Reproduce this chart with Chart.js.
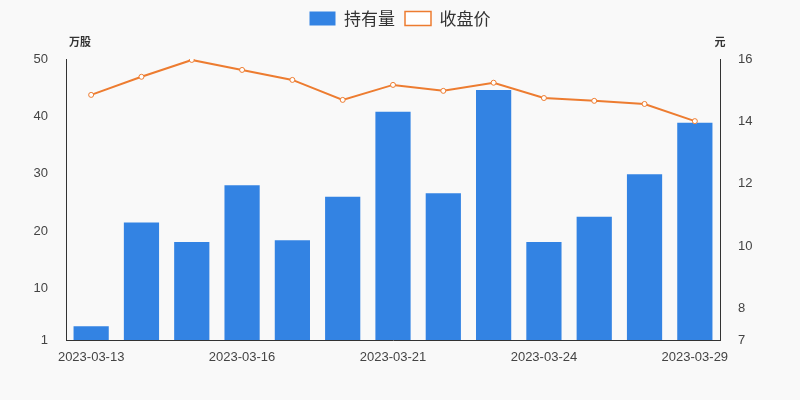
<!DOCTYPE html>
<html><head><meta charset="utf-8">
<script src="https://cdn.jsdelivr.net/npm/chart.js@4"></script>
<style>body{margin:0;background:#f9f9f9}#w{width:800px;height:400px}</style>
</head><body><div id="w"><canvas id="c"></canvas></div>
<script>
const dates = ["2023-03-13","2023-03-14","2023-03-15","2023-03-16","2023-03-17","2023-03-20","2023-03-21","2023-03-22","2023-03-23","2023-03-24","2023-03-27","2023-03-28","2023-03-29"];
const holdings = [3.4, 21.5, 18.1, 28.0, 18.4, 26.0, 40.8, 26.6, 44.6, 18.1, 22.5, 29.9, 38.9];
const closePrice = [14.85, 15.43, 15.97, 15.65, 15.33, 14.69, 15.17, 14.98, 15.24, 14.75, 14.66, 14.56, 14.01];
const leftTicks = [1, 10, 20, 30, 40, 50];
const rightTicks = [7, 8, 10, 12, 14, 16];
const shownDates = [0, 3, 6, 9, 12];

const unitLabels = {
  id: "unitLabels",
  afterDraw(chart) {
    const ctx = chart.ctx;
    ctx.save();
    ctx.font = "bold 11px 'Noto Sans CJK SC'";
    ctx.fillStyle = "#333";
    ctx.textAlign = "center";
    ctx.fillText("万股", 80, 42);
    ctx.fillText("元", 720, 42);
    ctx.restore();
  }
};

new Chart(document.getElementById("c"), {
  data: {
    labels: dates,
    datasets: [
      { type: "line", label: "收盘价", data: closePrice, yAxisID: "y1", borderColor: "#ed7c30",
        backgroundColor: "#fff", borderWidth: 2, pointRadius: 2.5, pointBorderWidth: 1, tension: 0 },
      { type: "bar", label: "持有量", data: holdings, yAxisID: "y", backgroundColor: "#3383e3",
        categoryPercentage: 1, barPercentage: 0.7 }
    ]
  },
  options: {
    responsive: true, maintainAspectRatio: false, animation: false,
    layout: { padding: { left: 0, right: 0, top: 0, bottom: 0 } },
    plugins: {
      legend: { position: "top", reverse: true,
        labels: { font: { size: 17, family: "'Noto Sans CJK SC'" }, color: "#333", boxWidth: 26, boxHeight: 14,
          generateLabels(chart) {
            return chart.data.datasets.map((d, i) => ({
              text: d.label, datasetIndex: i, fontColor: "#333",
              fillStyle: d.type === "bar" ? d.backgroundColor : "#fff",
              strokeStyle: d.type === "bar" ? d.backgroundColor : d.borderColor,
              lineWidth: d.type === "bar" ? 0 : 1.5
            }));
          } } },
      tooltip: { enabled: false }
    },
    scales: {
      x: { offset: true, grid: { display: false }, border: { color: "#333" },
        afterFit: s => { s.height = 60; },
        ticks: { autoSkip: false, maxRotation: 0, color: "#444", font: { size: 13 }, padding: 2,
          callback: (v, i) => shownDates.includes(i) ? dates[i] : "" } },
      y: { position: "left", min: 1, max: 50, grid: { display: false }, border: { color: "#333" },
        afterFit: s => { s.width = 66; },
        afterBuildTicks: s => { s.ticks = leftTicks.map(v => ({ value: v })); },
        ticks: { color: "#444", font: { size: 13 }, padding: 10 } },
      y1: { position: "right", min: 7, max: 16, grid: { display: false }, border: { color: "#333" },
        afterFit: s => { s.width = 80; },
        afterBuildTicks: s => { s.ticks = rightTicks.map(v => ({ value: v })); },
        ticks: { color: "#444", font: { size: 13 }, padding: 10 } }
    }
  },
  plugins: [unitLabels, {
    id: "topPad",
    beforeInit(chart) {
      const orig = chart.legend.fit;
      chart.legend.fit = function () { orig.bind(this)(); this.height = 59; };
    }
  }]
});
</script></body></html>
